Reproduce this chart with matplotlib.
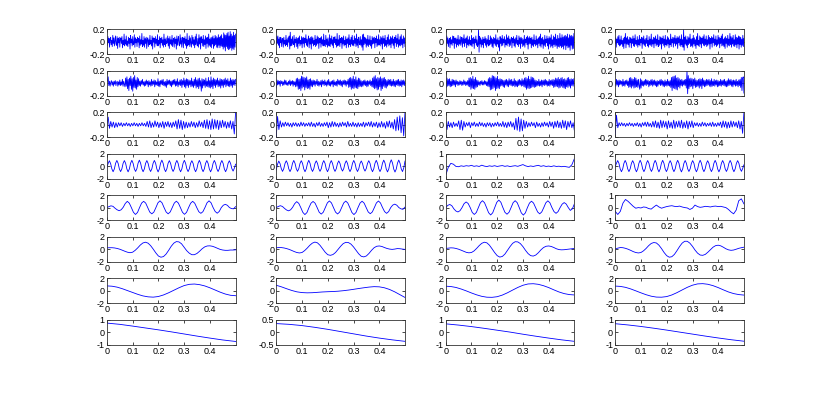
#!/usr/bin/env python3
"""
Eight-level filter bank decomposition of four signals (one column each).
Rows go from the finest detail band (top) to the smoothest approximation (bottom).
"""

import numpy as np
import matplotlib
matplotlib.use("Agg")
import matplotlib.pyplot as plt

T_END = 0.499  # time of last sample (s)

# All series are in units of 0.01, sampled evenly from 0 to T_END

# Row 1 - finest detail band
r1c1 = [3, -6, 8, -2, 5, -9, 4, 7, -5, 2, -8, 10, -3, 6, -7, 1, 9, -4, -6, 8, -11, 5, -2, 7,
        -9, 4, 6, -3, 8, -10, 2, -5, 12, -7, 3, -4, 9, -6, 1, -8, 7, -3, 5, -12, 10, -2, 4, -7,
        8, -5, -3, 11, -9, 6, -2, 4, -8, 7, -1, 5, -10, 9, -6, 3, -4, 13, -8, 2, -6, 8, -9, 5,
        -3, 7, -11, 4, 6, -8, 3, -5, 10, -4, 2, -7, 9, -12, 6, -1, 5, -9, 8, -3, 4, -6, 11, -7,
        2, -4, 8, -10, 5, -2, 7, -6, 3, -9, 12, -5, 4, -8, 6, -3, -2, 9, -7, 5, -11, 8, -4, 3,
        -6, 10, -8, 2, 5, -9, 7, -3, 4, -12, 9, -6, 3, 8, -5, -7, 11, -4, 6, -9, 2, 7, -10, 5,
        -3, 8, -6, 4, -11, 13, -7, 2, -5, 9, -8, 6, -2, -9, 10, -4, 7, -6, 3, -10, 8, -5, 12, -3,
        -7, 5, -9, 11, -4, 6, -12, 8, -2, 4, -7, 10, -8, 3, -5, 9, -11, 6, -3, 7, -9, 12, -6, 4,
        -8, 6, -10, 7, -4, 9, -11, 5, -7, 10, -5, 8, -9, 6, -10, 11, -6, 7, -10, 9, -7, 11, -8, 5,
        -12, 14, -9, 11, -15, 10, -8, 13, -11, 15, -13, 9, -12, 16, -10, 12, -14, 9, -11, 15, -13, 10, -9, 12]
r1c2 = [-5, 8, -3, 9, -6, 4, -10, 7, -2, 6, -8, 3, 5, -9, 7, -4, 2, -7, 10, -5, 3, -8, 6, -1,
        9, -12, 15, -7, 4, -6, 8, -3, -5, 10, -9, 4, -2, 7, -8, 5, -11, 6, -3, 9, -7, 2, -4, 8,
        -10, 6, -3, 7, -9, 5, -2, 11, -6, 4, -8, 3, 9, -10, 5, -4, 7, -12, 8, -3, 6, -7, 2, -5,
        10, -8, 4, -6, 9, -3, 7, -11, 5, -2, 6, -9, 8, -4, 3, -7, 12, -6, 2, -8, 10, -5, 4, -9,
        6, -3, -7, 11, -8, 5, -4, 9, -6, 3, -10, 7, -2, 8, -5, 4, -9, 13, -7, 3, -6, 10, -8, 5,
        -2, 7, -11, 6, -4, 9, -7, 2, -5, 8, -10, 4, -3, 6, -9, 11, -5, 3, -8, 7, -4, 10, -6, 2,
        -7, 9, -3, 5, -8, 12, -6, 4, -10, 7, -2, -5, 8, -6, 3, -9, 11, -14, 12, -5, 7, -3, 6, -9,
        4, -6, 10, -8, 3, -5, 9, -7, 2, -11, 8, -4, 6, -3, 7, -10, 5, -2, 9, -8, 4, -6, 11, -5,
        3, -7, 8, -4, 6, -12, 9, -3, 5, -8, 10, -6, 2, -9, 7, -4, 11, -7, 3, -5, 8, -10, 6, -3,
        9, -6, 4, -11, 7, -2, 10, -8, 5, -4, 12, -9, 3, -6, 8, -7, 11, -5, 4, -10, 9, -3, 6, -8]
r1c3 = [4, -7, 9, -3, 6, -8, 2, 5, -10, 7, -4, 3, -6, 9, -2, 8, -11, 5, -3, 6, -9, 4, -5, 10,
        -7, 3, -4, 8, -6, 2, 7, -9, 5, -3, 11, -8, 4, -2, 6, -10, 9, -5, 3, -7, 8, -4, 2, -6,
        10, -8, 5, -3, 7, -11, 4, -2, 9, -6, 3, -8, -5, 19, -17, 8, -4, 6, -9, 3, -5, 7, -10, 4,
        -2, 8, -6, 5, -9, 3, -4, 10, -7, 2, -5, 9, -3, 6, -8, 4, -10, 7, -3, 5, -6, 11, -8, 3,
        -4, 6, -9, 2, -15, 8, -3, 5, -7, 10, -6, 4, -2, 8, -9, 3, -5, 11, -7, 6, -3, 9, -8, 4,
        -6, 3, 7, -10, 5, -2, 8, -7, 4, -9, 6, -3, 10, -5, 2, -8, 9, -4, 6, -11, 7, -3, 5, -8,
        3, -6, 10, -9, 4, -2, 7, -5, 9, -12, 6, -4, 8, -3, 5, -10, 7, -6, 3, -8, 11, -4, 2, -7,
        9, -5, 4, -10, 6, -3, 8, -7, 12, -9, 5, -4, 7, -11, 3, -6, 10, -8, 4, -2, 9, -7, 5, -12,
        8, -4, 6, -9, 11, -7, 3, -10, 9, -5, 7, -8, 12, -6, 4, -11, 10, -8, 5, -9, 13, -7, 6, -10,
        11, -8, 7, -12, 9, -6, 10, -13, 8, -7, 12, -10, 6, -9, 11, -14, 9, -6, 10, -12, 8, -11, 13, -9]
r1c4 = [-3, 6, -9, 4, -2, 8, -5, 10, -7, 3, -6, 9, -4, 2, -8, 5, -11, 7, -3, 13, -10, 6, -4, 8,
        -5, 3, -9, 7, -2, 6, -10, 4, -3, 9, -7, 5, -8, 11, -4, 2, -6, 8, -9, 3, -5, 10, -7, 4,
        -2, 7, -11, 6, -4, 9, -6, 3, -8, 5, -3, 10, -7, 2, -9, 8, -5, 4, -6, 12, -8, 3, -4, 7,
        -10, 6, -3, 9, -7, 4, -5, 11, -8, 2, -6, 8, -4, 7, -12, 5, -3, 9, -6, 4, -9, 10, -5, 3,
        -7, 8, -4, 6, -10, 3, -5, 12, -8, 4, -2, 7, -9, 6, -3, 10, -7, 5, -4, 8, -11, 6, -2, 9,
        -6, 4, -8, 11, -5, 3, -9, 19, -14, 7, -4, 9, -6, 3, -10, 8, -5, 6, -3, 12, -8, 4, -7, 5,
        -9, 10, -4, 6, -7, 3, -11, 8, -5, 13, -6, 2, -8, 9, -4, 7, -10, 5, -3, 8, -6, 11, -7, 4,
        -5, 9, -8, 3, -6, 10, -4, 7, -12, 5, -3, 8, -9, 6, -2, 11, -7, 4, -5, 9, -8, 3, -6, 10,
        -4, 7, -10, 5, -3, 9, -7, 12, -6, 4, -8, 6, -11, 8, -3, 5, -9, 10, -6, 4, -7, 13, -5, 8,
        -9, 6, -4, 10, -7, 3, -8, 11, -5, 7, -10, 6, -4, 9, -12, 8, -5, 7, -9, 4, -6, 10, -8, 5]

# Row 2
r2c1 = [2, 5, 10, -4, 3, -5, 1, 4, -3, 2, -5, 3, -2, 4, -4, 1, 3, -5, 2, -3,
        5, -4, 2, -3, 6, -5, 3, -2, -6, 8, -5, 10, -9, 6, -12, 8, -4, 11, -10, 7,
        -13, 9, -7, 12, -8, 5, -10, 9, -6, 7, -4, 3, -5, 4, -2, 6, -3, 2, -5, 3,
        -4, 5, -2, 3, -6, 4, -3, 2, -5, 6, -4, 3, -2, 5, -6, 4, -3, 2, -4, 7,
        -5, 3, -6, 4, -2, 5, -3, 6, -4, 2, -5, 3, -7, 6, -3, 4, -2, 5, -4, 3,
        -6, 4, -3, 5, -2, 6, -5, 3, -4, 7, -6, 2, -3, 5, -4, 6, -7, 4, -3, 8,
        -6, 5, -8, 7, -4, 6, -7, 5, -3, 4, -6, 8, -5, 3, -7, 6, -4, 9, -8, 5,
        -6, 7, -9, 8, -5, 4, -13, 7, -8, 6, -4, 5, -7, 8, -5, 3, -6, 9, -7, 4,
        -8, 10, -6, 5, -9, 8, -4, 6, -7, 5, -3, 8, -6, 4, -5, 7, -8, 6, -4, 5,
        -7, 6, -3, 8, -6, 5, -4, 7, -5, 3, -6, 8, -4, 5, -7, 6, -3, 5, -4, 6]
r2c2 = [-8, 5, -3, 4, -2, 3, -5, 4, -1, 3, -4, 2, -3, 5, -2, 4, -3, 1, -4, 3,
        -2, 5, -4, 3, -2, 4, -5, 3, -3, 2, -6, 7, -5, 8, -10, 6, -9, 7, -12, 11,
        -8, 10, -6, 9, -11, 8, -7, 10, -9, 5, -8, 6, -10, 7, -5, 4, -6, 5, -3, 4,
        -5, 3, -2, 6, -4, 3, -5, 2, -3, 4, -6, 5, -2, 3, -4, 5, -3, 2, -5, 4,
        -3, 6, -4, 2, -5, 3, -2, 4, -6, 5, -3, 2, -4, 3, -5, 6, -2, 4, -3, 5,
        -4, 3, -6, 4, -2, 5, -3, 4, -5, 3, -2, 6, -7, 8, -6, 9, -10, 7, -8, 11,
        -9, 6, -7, 10, -8, 5, -9, 8, -6, 7, -5, 4, -6, 3, -5, 4, -3, 5, -4, 3,
        -6, 4, -5, 3, -2, 5, -4, 3, -6, 8, -7, 10, -9, 12, -8, 7, -11, 9, -10, 8,
        -6, 10, -12, 7, -9, 8, -5, 9, -7, 6, -8, 4, -5, 6, -3, 5, -4, 6, -5, 3,
        -4, 6, -5, 3, -6, 4, -3, 5, -4, 6, -5, 3, -4, 5, -6, 4, -3, 5, -4, 3]
r2c3 = [3, -7, 8, -5, 6, -4, 7, -6, 3, -5, 6, -4, 5, -3, 4, -6, 5, -2, 3, -4,
        2, -3, 4, -2, 3, -4, 2, -3, 5, -2, 3, -4, 2, -3, 4, -5, 8, -6, 9, -10,
        7, -8, 11, -9, 6, -10, 9, -7, 5, -6, 4, -3, 2, -4, 3, -2, 4, -3, 2, -3,
        4, -2, 3, -4, 2, -5, 7, -6, 9, -11, 8, -10, 12, -9, 11, -7, 10, -12, 8, -9,
        11, -8, 6, -9, 7, -5, 6, -4, 5, -6, 4, -7, 5, -3, 6, -5, 4, -6, 7, -3,
        5, -4, 6, -5, 3, -4, 7, -6, 4, -5, 3, -6, 5, -4, 6, -3, 4, -5, 7, -4,
        5, -6, 8, -7, 9, -10, 7, -8, 11, -9, 6, -8, 10, -7, 9, -6, 8, -7, 5, -6,
        4, -5, 3, -4, 6, -5, 3, -4, 5, -6, 4, -3, 5, -4, 6, -3, 4, -5, 3, -4,
        6, -5, 4, -3, 5, -4, 6, -7, 5, -6, 8, -5, 7, -6, 9, -8, 6, -7, 8, -5,
        9, -7, 6, -8, 7, -9, 5, -6, 8, -7, 9, -5, 6, -8, 7, -4, 6, -5, 7, -4]
r2c4 = [2, -5, 6, -3, 4, -6, 5, -3, 4, -2, 3, -5, 6, -4, 3, -5, 4, -2, 5, -4,
        3, -7, 8, -6, 9, -8, 7, -5, 6, -8, 9, -7, 8, -6, 5, -7, 6, -4, -10, 7,
        -8, 5, -4, 3, -5, 4, -3, 6, -4, 5, -2, 4, -6, 3, -4, 5, -3, 6, -5, 4,
        -3, 5, -4, 3, -6, 4, -5, 3, -2, 5, -4, 6, -3, 4, -5, 3, -6, 5, -4, 3,
        -5, 6, -4, 3, -5, 4, -7, 9, -12, 10, -8, 11, -9, 12, -10, 8, -11, 9, -6, 7,
        -8, 5, -4, 6, -5, 4, -3, 5, -4, 6, -8, 20, -17, 12, -9, 7, -6, 8, -5, 7,
        -9, 6, -4, 8, -7, 5, -6, 4, -5, 6, -8, 7, -5, 6, -9, 8, -4, 5, -6, 4,
        -5, 6, -4, 5, -3, 6, -5, 4, -6, 7, -5, 3, -4, 6, -5, 4, -3, 5, -6, 4,
        -5, 3, -4, 6, -5, 4, -3, 5, -4, 6, -5, 3, -6, 4, -5, 7, -4, 5, -3, 6,
        -5, 4, -6, 5, -3, 4, -5, 6, -4, 3, -6, 5, -4, 6, -7, 9, -12, 8, 10, -16]

# Row 3
r3c1 = [0, 12, -6, 5, -4,
        4, -5, 3, -4, 3, -2, 3, -3, 2, -2, 3, -2, 2, -3, 2, -2, 3, -2, 2, -3, 2, -2, 3, -2, 2, -3,
        5, -4, 6, -5, 3, -4, 6, -3, 4, -5, 3, -4, 5, -6, 4, -3, 5, -4, 3, -5, 4, -3,
        6, -7, 8, -6, 7, -8, 5, -6, 4, -5,
        3, -4, 5, -3, 4, -5, 3, -4, 6, -3, 4, -5,
        7, -6, 8, -7, 6, -8, 9, -7, 8, -6, 7, -8, 6, -5, 7, -4, 5, -6,
        4, -5, 6, -7, 5, -15, 19]
r3c2 = [-19, 13, -8, 6,
        -4, 3, -3, 4, -2, 3, -3, 2, -4, 3, -2, 3, -3, 2, -3, 4, -2, 3, -3, 2, -2, 3, -3, 4, -3, 2,
        -4, 3, -2, 4, -3, 2, -3, 3, -2, 4, -5, 3, -4, 5, -3, 4, -3, 2, -4, 3, -3, 4, -2, 3, -4, 5,
        -3, 2, -3, 4, -3, 2, -4, 3, -3, 2, -3, 4, -4, 3, -2, 4, -3, 5, -4, 3, -3, 4, -5, 3, -4, 5,
        -4, 3, -6, 5, -4, 6, -5, 4, -7,
        8, -10, 12, -9, 14, -13, 11, -18, 20]
r3c3 = [6, -8, 5, -4, 3, -5, 4, -3, 2, -3,
        6, -8, 7, -9, 5, -4,
        3, -2, 4, -5, 3, -2, 4, -3, 2, -3, 4, -2, 3, -3, 2, -4, 3, -2, 3, -4, 2, -3, 3, -2, 4, -3,
        2, -3, 5, -4, 3, -5, 4, -3, 5, -4, 3,
        -8, 10, -9, 12, -11, 9, -10, 7, -6, 5,
        -4, 3, -3, 4, -2, 3, -5, 4, -3, 2, -4, 3, -3, 4, -2, 3, -4, 5, -3, 4, -6, 5, -4, 6, -5, 4,
        -6, 7, -5, 6, -8, 5, -4, 6, -5, 3, -10]
r3c4 = [-16, 15, -5, 3,
        -2, 3, -2, 2, -3, 2, -2, 3, -2, 2, -3, 2, -2, 3, -3, 2, -4, 3, -2, 4, -3, 4, -3, 2, -4,
        5, -4, 6, -5, 4, -6, 7, -5, 6, -4, 5, -7, 6, -5, 4, -6, 7, -6, 5, -4, 6, -5, 7, -6, 4, -5,
        6, -7, 5, -4, 6, -5,
        3, -2, 3, -3, 2, -3, 4, -2, 3, -3, 2, -2, 3, -3, 4, -3, 2, -3, 3, -2,
        4, -5, 6, -4, 5, -6, 4, -5, 6, -4, 5, -3, 4, -5, 6, -7,
        5, -14, 19]

# Row 4
r4c1 = [-20, 40, 85, 40, -45, -90, -45, 45, 90, 45, -45, -88, -44, 44, 88, 45, -46, -92,
        -46, 46, 92, 44, -44, -86, -43, 47, 94, 46, -45, -90, -45, 44, 88, 43, -44, -87,
        -43, 45, 90, 46, -46, -93, -46, 47, 95, 46, -45, -89, -44, 44, 87, 43, -43, -86,
        -43, 45, 90, 45, -46, -91, -45, 46, 92, 45, -44, -88, -44, 43, 86, 44, -45, -90,
        -45, 45, 91, 46, -45, -89, -44, 44, 88, 44, -46, -92, -46, 45, 90, 45, -44, -87,
        -43, 44, 89, 45, -45, -90, -45, 43, 85, 42, -40, -80, -35, 30]
r4c2 = [-60, 30, 80, 40, -40, -85, -42, 42, 85, 43, -44, -88, -44, 45, 90, 44, -42, -84,
        -42, 43, 86, 44, -45, -90, -45, 46, 92, 45, -43, -86, -43, 42, 84, 42, -42, -84,
        -42, 44, 88, 45, -45, -90, -45, 44, 88, 43, -42, -85, -43, 42, 83, 41, -40, -80,
        -40, 42, 85, 43, -44, -88, -44, 45, 90, 45, -44, -87, -43, 41, 82, 40, -40, -80,
        -40, 43, 86, 44, -45, -90, -45, 46, 92, 45, -44, -88, -44, 47, 95, 48, -47, -93,
        -47, 50, 100, 49, -48, -95, -48, 48, 96, 46, -45, -88, -30, 80]
r4c3 = [-75, -10, 22, 15, -3, -5, 2, -2, 3, 0, 6, -2, 2, -3, 7, 0, -4, 2, -2, 3, -3, 1, 4, -2,
        2, -4, 0, 3, -2, 5, 12, 2, -4, 1, -3, 2, 6, -2, 3, -3, 0, -4, 2, -3, -1, -5, -2, -6,
        -10, 10, 60]
r4c4 = [-10, 45, 88, 44, -45, -90, -46, 45, 90, 45, -44, -88, -43, 44, 87, 43, -45, -91,
        -46, 46, 93, 46, -45, -89, -44, 45, 89, 44, -43, -86, -43, 45, 91, 46, -46, -92,
        -46, 46, 92, 45, -44, -88, -44, 44, 87, 43, -44, -89, -45, 46, 92, 46, -46, -93,
        -46, 45, 89, 44, -43, -86, -43, 44, 88, 45, -45, -91, -46, 46, 93, 46, -45, -89,
        -44, 43, 86, 43, -44, -88, -45, 46, 91, 45, -46, -92, -46, 45, 89, 44, -43, -86,
        -43, 45, 90, 46, -45, -90, -45, 44, 87, 43, -42, -84, -40, 20]

# Row 5
r5c1 = [0, 15, 28, 20, -10, -35, -50, -35, 5, 65, 100, 70, 0, -75, -110, -78,
        0, 72, 100, 72, 0, -72, -100, -72, 0, 76, 108, 76, 0, -70, -100, -70,
        0, 72, 102, 72, 0, -75, -108, -76, 0, 70, 100, 70, 0, -66, -92, -66,
        0, 75, 108, 76, 0, -62, -90, -62, 0, 38, 52, 36, 0, -16, -20, 15]
r5c2 = [0, 18, 30, 18, -12, -38, -52, -36, 4, 62, 95, 68, 0, -76, -112, -80,
        0, 70, 98, 70, 0, -74, -104, -74, 0, 75, 106, 75, 0, -72, -102, -72,
        0, 74, 104, 73, 0, -78, -112, -79, 0, 72, 102, 71, 0, -70, -98, -70,
        0, 74, 105, 74, 0, -64, -92, -64, 0, 40, 55, 38, 0, -20, -28, 8]
r5c3 = [0, 35, 50, 30, -20, -55, -70, -50, 0, 63, 90, 65, 0, -78, -110, -78,
        0, 78, 110, 78, 0, -82, -118, -84, 0, 84, 120, 85, 0, -76, -106, -75,
        0, 78, 110, 78, 0, -84, -120, -85, 0, 72, 102, 72, 0, -70, -100, -70,
        0, 76, 108, 77, 0, -64, -92, -64, 0, 55, 80, 56, 0, -45, -20, 60]
r5c4 = [-30, -55, -30, 35, 65, 50, 30, 10, -5, 0, -3, 5, 2, -8, -12, 5, 20, 5, -5, 2, 8, 12,
        15, 10, 8, 12, 5, 0, -3, -15, -5, 20, 8, 2, 5, 10, 8, 5, 10, 12, 8, 10, 5, 0, -15, -35,
        -50, -20, 55, 70, 30]

# Row 6
r6c1 = [20, 22, 22, 18, 10, -2, -18, -35, -50, -58, -50, -20, 20, 65, 98, 110, 95, 55, 0,
        -60, -110, -130, -120, -80, -20, 45, 95, 120, 115, 85, 30, -25, -65, -90, -90, -70,
        -35, 5, 35, 50, 52, 45, 30, 12, -5, -15, -20, -20, -15, -15, -12]
r6c2 = [20, 25, 24, 18, 8, -5, -22, -40, -55, -62, -55, -25, 15, 60, 95, 112, 100, 60, 5,
        -50, -90, -100, -88, -55, -5, 45, 88, 108, 105, 80, 35, -20, -75, -115, -125, -110,
        -70, -20, 22, 45, 50, 42, 25, 10, 0, -5, 0, 8, 6, 0, -5]
r6c3 = [10, 15, 20, 18, 10, -2, -18, -35, -52, -60, -55, -30, 10, 55, 92, 110, 100, 62, 5,
        -55, -105, -128, -118, -80, -20, 40, 92, 118, 115, 88, 40, -20, -72, -105, -112, -95,
        -58, -12, 25, 45, 50, 42, 25, 5, -8, -12, -10, -5, 0, 5, 10]
r6c4 = [0, 15, 25, 22, 12, -2, -20, -40, -55, -62, -55, -28, 10, 55, 90, 105, 98, 62, 8,
        -55, -105, -130, -122, -85, -25, 40, 95, 125, 125, 95, 45, -15, -65, -95, -100, -85,
        -50, -10, 30, 55, 62, 52, 30, 5, -12, -20, -15, -2, 12, 22, 30]

# Row 7
r7c1 = [75, 70, 55, 30, 0, -30, -60, -85, -100, -105, -95, -70, -35, 5, 45, 80, 100, 105,
        95, 75, 45, 10, -25, -55, -75, -82]
r7c2 = [85, 60, 30, 2, -20, -32, -36, -34, -28, -22, -18, -15, -10, -2, 8, 20, 33, 45,
        56, 63, 60, 45, 18, -20, -65, -110]
r7c3 = [70, 65, 50, 25, -5, -38, -68, -92, -106, -108, -98, -72, -35, 8, 50, 85, 106, 110,
        100, 78, 48, 12, -22, -48, -64, -70]
r7c4 = [72, 67, 52, 27, -4, -36, -66, -90, -104, -106, -96, -70, -33, 10, 52, 86, 107, 111,
        101, 79, 48, 12, -22, -48, -64, -72]

# Row 8 - smoothest approximation
r8c1 = [72, 62, 48, 33, 18, 2, -15, -32, -48, -63, -75]
r8c2 = [34, 31, 26, 19, 11, 2, -7, -16, -24, -31, -37]
r8c3 = [66, 56, 44, 30, 15, 0, -17, -33, -48, -62, -74]
r8c4 = [67, 57, 45, 31, 16, 0, -16, -32, -47, -61, -73]

rows = [
    [r1c1, r1c2, r1c3, r1c4],
    [r2c1, r2c2, r2c3, r2c4],
    [r3c1, r3c2, r3c3, r3c4],
    [r4c1, r4c2, r4c3, r4c4],
    [r5c1, r5c2, r5c3, r5c4],
    [r6c1, r6c2, r6c3, r6c4],
    [r7c1, r7c2, r7c3, r7c4],
    [r8c1, r8c2, r8c3, r8c4],
]

# symmetric y limits (+/-) of each panel
ylims = [
    [0.2, 0.2, 0.2, 0.2],
    [0.2, 0.2, 0.2, 0.2],
    [0.2, 0.2, 0.2, 0.2],
    [2, 2, 1, 2],
    [2, 2, 2, 1],
    [2, 2, 2, 2],
    [2, 2, 2, 2],
    [1, 0.5, 1, 1],
]

x_ticks = [0, 0.1, 0.2, 0.3, 0.4]
x_tick_labels = ["0", "0.1", "0.2", "0.3", "0.4"]


def main():
    plt.rcParams['font.family'] = ['Liberation Sans', 'DejaVu Sans']

    fig = plt.figure(figsize=(8.22, 3.93), dpi=100)

    # subplot grid (figure fractions)
    lefts = [0.13, 0.3361, 0.5422, 0.7484]
    width = 0.1566
    top = 0.926
    pitch = 0.1056
    height = 0.0636

    for r, row in enumerate(rows):
        for c, series in enumerate(row):
            ax = fig.add_axes([lefts[c], top - r * pitch - height, width, height])
            vals = np.array(series) * 0.01
            t = np.linspace(0, T_END, len(vals))
            ax.plot(t, vals, color='blue', linewidth=0.6)

            lim = ylims[r][c]
            ax.set_xlim(0, T_END)
            ax.set_ylim(-lim, lim)
            ax.set_xticks(x_ticks)
            ax.set_xticklabels(x_tick_labels)
            ax.set_yticks([-lim, 0, lim])
            ax.set_yticklabels(['%g' % -lim, '0', '%g' % lim])
            ax.tick_params(direction='in', length=2, width=0.5, top=True, right=True,
                           labelsize=6.5, pad=1.5, colors='black')
            for sp in ax.spines.values():
                sp.set_linewidth(0.6)
                sp.set_color('#333333')

    fig.savefig('out.png', dpi=100)


if __name__ == '__main__':
    main()
